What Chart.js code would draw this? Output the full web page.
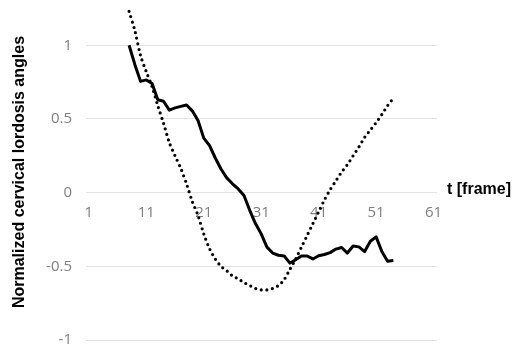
<!DOCTYPE html>
<html>
<head>
<meta charset="utf-8">
<script src="https://cdn.jsdelivr.net/npm/chart.js@4/dist/chart.umd.min.js"></script>
<style>
  html, body { margin: 0; padding: 0; background: #fff; }
  #wrap { width: 519px; height: 349px; }
</style>
</head>
<body>
<div id="wrap"><canvas id="chart"></canvas></div>
<script>
const frames = [];
for (let t = 8; t <= 54; t++) frames.push(t);

const measured = [1.00, 0.87, 0.755, 0.765, 0.74, 0.63, 0.62, 0.56, 0.575, 0.585,
  0.595, 0.555, 0.49, 0.37, 0.32, 0.235, 0.16, 0.10, 0.06, 0.025,
  -0.02, -0.12, -0.21, -0.28, -0.37, -0.41, -0.425, -0.43, -0.478, -0.455,
  -0.43, -0.43, -0.45, -0.428, -0.42, -0.407, -0.383, -0.372, -0.41, -0.362,
  -0.368, -0.40, -0.33, -0.30, -0.40, -0.465, -0.46];

const reference = [1.23, 1.10, 0.93, 0.82, 0.72, 0.59, 0.47, 0.34, 0.25, 0.165,
  0.06, -0.06, -0.155, -0.28, -0.38, -0.45, -0.50, -0.53, -0.565, -0.585,
  -0.61, -0.63, -0.65, -0.66, -0.66, -0.65, -0.63, -0.59, -0.52, -0.45,
  -0.37, -0.29, -0.21, -0.13, -0.05, 0.02, 0.08, 0.14, 0.19, 0.25,
  0.31, 0.375, 0.425, 0.475, 0.53, 0.59, 0.64];

const xTicks = [1, 11, 21, 31, 41, 51, 61];
const yTicks = [-1, -0.5, 0, 0.5, 1];

const yTitle = 'Normalized cervical lordosis angles';
const xTitle = 't [frame]';

const toPoints = arr => arr.map((v, i) => ({x: frames[i], y: v}));

// x axis title sits to the right of the axis line, like the Excel original
const xTitlePlugin = {
    id: 'xTitleRight',
    afterDraw(chart) {
        const ctx = chart.ctx;
        const yPix = chart.scales.y.getPixelForValue(0);
        ctx.save();
        ctx.font = 'bold 16px "Liberation Sans", Arial, sans-serif';
        ctx.fillStyle = '#000';
        ctx.textAlign = 'left';
        ctx.textBaseline = 'middle';
        ctx.fillText(xTitle, chart.chartArea.right + 10, yPix - 3);
        ctx.restore();
    }
};

const tickFont = {family: '"Open Sans", sans-serif', size: 15};

const config = {
    type: 'line',
    data: {
        datasets: [
            {
                data: toPoints(measured),
                borderColor: '#000',
                borderWidth: 3,
                pointRadius: 0,
                tension: 0,
                borderJoinStyle: 'round',
            },
            {
                data: toPoints(reference),
                borderColor: '#000',
                borderWidth: 3.2,
                borderDash: [0, 5.6],
                borderCapStyle: 'round',
                pointRadius: 0,
                tension: 0.3,
            },
        ]
    },
    options: {
        responsive: true,
        maintainAspectRatio: false,
        animation: false,
        layout: {padding: {top: 4, bottom: 9, right: 82, left: 0}},
        plugins: {
            legend: {display: false},
            tooltip: {enabled: false},
        },
        scales: {
            x: {
                type: 'linear',
                position: {y: 0},
                min: 0.5,
                max: 61.6,
                afterBuildTicks: scale => { scale.ticks = xTicks.map(v => ({value: v})); },
                afterFit: scale => { scale.paddingLeft = 0; scale.paddingRight = 0; },
                grid: {display: false, drawTicks: false},
                border: {display: false},
                ticks: {color: '#7f7f7f', font: tickFont, padding: 11, maxRotation: 0, autoSkip: false},
            },
            y: {
                type: 'linear',
                min: -1,
                max: 1.28,
                afterBuildTicks: scale => { scale.ticks = yTicks.map(v => ({value: v})); },
                afterFit: scale => {
                    scale.width = 86;
                    scale.paddingTop = 0;
                    scale.paddingBottom = 0;
                },
                grid: {color: '#e3e3e3', lineWidth: 1, drawTicks: false},
                border: {display: false},
                ticks: {color: '#7f7f7f', font: tickFont, padding: 14, callback: v => String(v)},
                title: {
                    display: true,
                    text: yTitle,
                    color: '#000',
                    font: {family: '"Liberation Sans", Arial, sans-serif', size: 16, weight: 'bold'},
                    padding: {top: 10, bottom: 0},
                },
            },
        }
    },
    plugins: [xTitlePlugin],
};

const chart = new Chart(document.getElementById('chart'), config);
</script>
</body>
</html>
